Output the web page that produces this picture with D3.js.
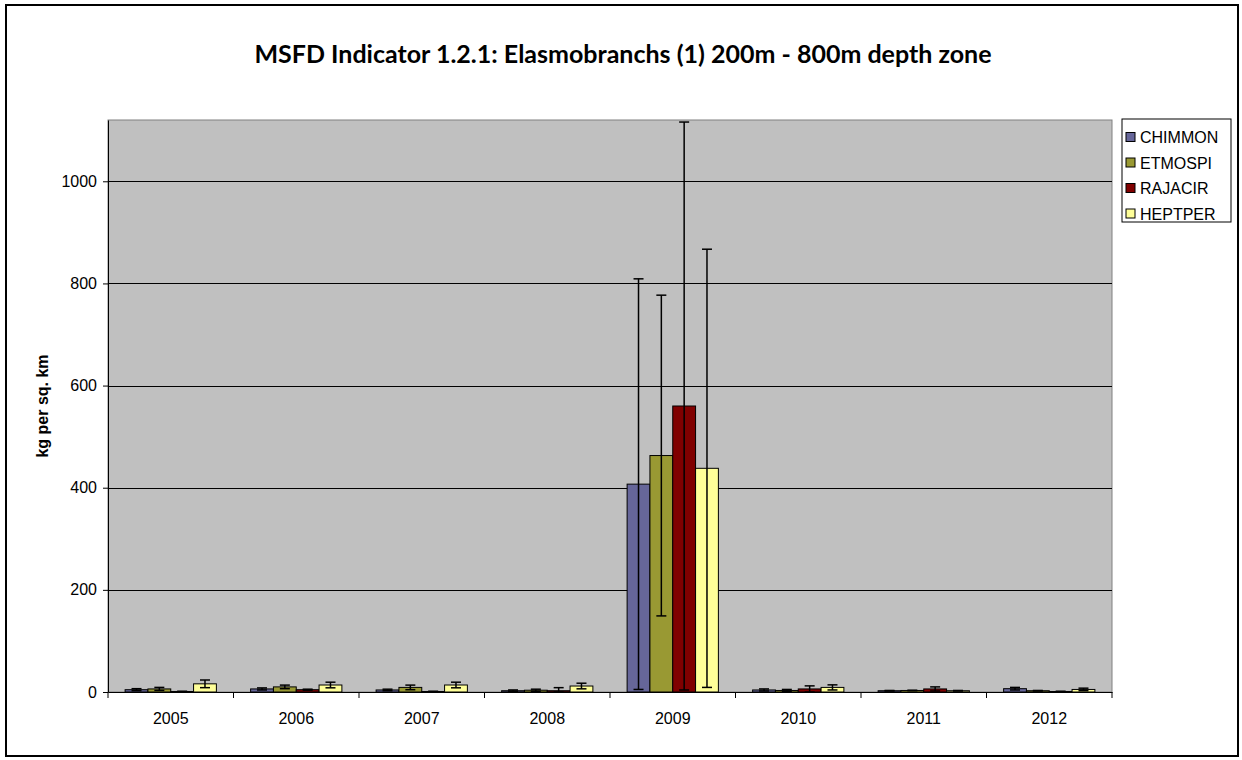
<!DOCTYPE html>
<html>
<head>
<meta charset="utf-8">
<script src="https://cdn.jsdelivr.net/npm/d3@7"></script>
<style>
  html, body { margin: 0; padding: 0; background: #fff; }
  svg { display: block; }
</style>
</head>
<body>
<svg id="chart" width="1242" height="760"></svg>
<script>
const years = ["2005", "2006", "2007", "2008", "2009", "2010", "2011", "2012"];
const seriesNames = ["CHIMMON", "ETMOSPI", "RAJACIR", "HEPTPER"];
const seriesColors = ["#666699", "#999933", "#800000", "#FFFF99"];
const CHIMMON = [4.5, 6, 4, 2.5, 407, 4, 2.5, 6.5];
const CHIMMON_err = [2, 2, 1.5, 1.5, 402, 2, 0.5, 2.5];
const ETMOSPI = [6, 10, 9, 3.5, 463, 3, 3, 2.5];
const ETMOSPI_err = [3, 3.5, 4.5, 2, 314, 2, 0.5, 0.5];
const RAJACIR = [1, 4.5, 1, 2.5, 560, 6, 6, 1];
const RAJACIR_err = [0.5, 1, 0.5, 6, 556, 6, 4, 0.5];
const HEPTPER = [16, 13.7, 13.7, 11.7, 438, 9, 2.5, 5];
const HEPTPER_err = [7.5, 5.5, 5.5, 5.5, 429, 5, 0.5, 2.5];
const yTicks = [0, 200, 400, 600, 800, 1000];
const yMax = 1120;
const title = "MSFD Indicator 1.2.1: Elasmobranchs (1) 200m - 800m depth zone";
const yLabel = "kg per sq. km";

const values = [CHIMMON, ETMOSPI, RAJACIR, HEPTPER];
const errors = [CHIMMON_err, ETMOSPI_err, RAJACIR_err, HEPTPER_err];

const svg = d3.select("#chart");
const plot = { left: 108, top: 120, right: 1112, bottom: 692 };
const sans = "'Liberation Sans', Arial, sans-serif";

// outer border
svg.append("rect").attr("x", 6).attr("y", 5).attr("width", 1232).attr("height", 751)
  .attr("fill", "#fff").attr("stroke", "#000").attr("stroke-width", 2);

// title
svg.append("text").attr("x", 623).attr("y", 63).attr("text-anchor", "middle")
  .attr("font-family", "Lato, 'Open Sans', sans-serif").attr("font-weight", "bold")
  .attr("font-size", 25).text(title);

const x0 = d3.scaleBand().domain(years).range([plot.left, plot.right]).padding(0);
const bw = x0.bandwidth();
const gap = bw * 0.75 / 5.5;
const x1 = d3.scaleBand().domain(seriesNames).range([gap, bw - gap]).padding(0);
const y = d3.scaleLinear().domain([0, yMax]).range([plot.bottom, plot.top]);

// plot background
svg.append("rect").attr("x", plot.left).attr("y", plot.top)
  .attr("width", plot.right - plot.left).attr("height", plot.bottom - plot.top)
  .attr("fill", "#C0C0C0").attr("stroke", "#808080").attr("stroke-width", 1);

// gridlines
svg.append("g").selectAll("line").data(yTicks.filter(d => d > 0)).join("line")
  .attr("x1", plot.left).attr("x2", plot.right)
  .attr("y1", d => Math.round(y(d)) + 0.5).attr("y2", d => Math.round(y(d)) + 0.5)
  .attr("stroke", "#000").attr("stroke-width", 1);

// bars
const rows = [];
years.forEach((yr, i) => {
  seriesNames.forEach((s, j) => {
    rows.push({ yr, s, j, v: values[j][i], e: errors[j][i] });
  });
});

svg.append("g").selectAll("rect.bar").data(rows).join("rect").attr("class", "bar")
  .attr("x", d => x0(d.yr) + x1(d.s))
  .attr("y", d => y(d.v))
  .attr("width", x1.bandwidth())
  .attr("height", d => plot.bottom - y(d.v))
  .attr("fill", d => seriesColors[d.j])
  .attr("stroke", "#000").attr("stroke-width", 1);

// error bars
const eg = svg.append("g").attr("stroke", "#000").attr("stroke-width", 1.5);
rows.forEach(d => {
  const cx = x0(d.yr) + x1(d.s) + x1.bandwidth() / 2;
  const lo = Math.max(0, d.v - d.e), hi = d.v + d.e;
  eg.append("line").attr("x1", cx).attr("x2", cx).attr("y1", y(lo)).attr("y2", y(hi));
  eg.append("line").attr("x1", cx - 5).attr("x2", cx + 5).attr("y1", y(hi)).attr("y2", y(hi));
  eg.append("line").attr("x1", cx - 5).attr("x2", cx + 5).attr("y1", y(lo)).attr("y2", y(lo));
});

// y axis
const yAxis = d3.axisLeft(y).tickValues(yTicks).tickFormat(d3.format("d"))
  .tickSize(5).tickSizeOuter(0).tickPadding(6);
const ya = svg.append("g").attr("transform", `translate(${plot.left},0)`).call(yAxis);
ya.select(".domain").attr("stroke", "#000");
ya.selectAll("text").attr("font-family", sans).attr("font-size", 16).attr("fill", "#000");

// x axis
const xAxis = d3.axisBottom(x0).tickSize(0).tickPadding(21);
const xa = svg.append("g").attr("transform", `translate(0,${plot.bottom})`).call(xAxis);
xa.select(".domain").attr("stroke", "#000");
xa.selectAll("text").attr("font-family", sans).attr("font-size", 16).attr("fill", "#000");
xa.append("g").selectAll("line").data(years.concat(["end"])).join("line")
  .attr("x1", (d, i) => plot.left + i * bw).attr("x2", (d, i) => plot.left + i * bw)
  .attr("y1", 0).attr("y2", 6).attr("stroke", "#000");

// y label
svg.append("text")
  .attr("transform", `translate(48,${(plot.top + plot.bottom) / 2}) rotate(-90)`)
  .attr("text-anchor", "middle")
  .attr("font-family", sans).attr("font-weight", "bold")
  .attr("font-size", 16).text(yLabel);

// legend
const lg = svg.append("g");
lg.append("rect").attr("x", 1122).attr("y", 119).attr("width", 109).attr("height", 103)
  .attr("fill", "#fff").attr("stroke", "#000").attr("stroke-width", 1);
seriesNames.forEach((s, j) => {
  const cy = 137 + j * 25.5;
  lg.append("rect").attr("x", 1126).attr("y", cy - 4.5).attr("width", 9).attr("height", 9)
    .attr("fill", seriesColors[j]).attr("stroke", "#000").attr("stroke-width", 1);
  lg.append("text").attr("x", 1140).attr("y", cy + 6)
    .attr("font-family", sans).attr("font-size", 16).text(s);
});
</script>
</body>
</html>
